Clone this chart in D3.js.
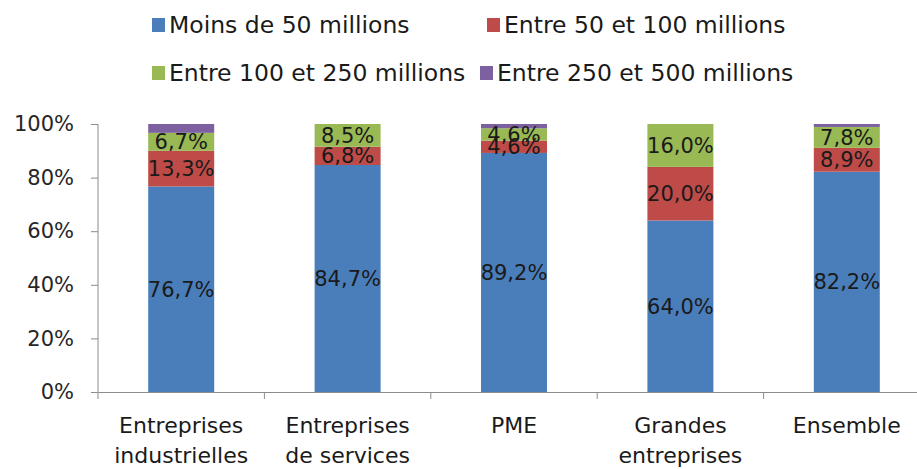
<!DOCTYPE html>
<html>
<head>
<meta charset="utf-8">
<script src="https://cdn.jsdelivr.net/npm/d3@7"></script>
<style>
  body { margin: 0; background: #fff; }
  text { font-family: "DejaVu Sans", sans-serif; }
</style>
</head>
<body>
<svg id="chart" width="917" height="469"></svg>
<script>
// categories, each label split on two lines
var categories = [
    ["Entreprises", "industrielles"],
    ["Entreprises", "de services"],
    ["PME"],
    ["Grandes", "entreprises"],
    ["Ensemble"]
];
var seriesNames = ["Moins de 50 millions", "Entre 50 et 100 millions",
    "Entre 100 et 250 millions", "Entre 250 et 500 millions"];
var seriesColors = ["#4a7ebb", "#be4b48", "#98b954", "#7d60a0"];

var moins50 = [76.7, 84.7, 89.2, 64.0, 82.2];
var de50a100 = [13.3, 6.8, 4.6, 20.0, 8.9];
var de100a250 = [6.7, 8.5, 4.6, 16.0, 7.8];
var de250a500 = [3.3, 0, 1.6, 0, 1.1];

var yTicks = [0, 20, 40, 60, 80, 100];

var series = [moins50, de50a100, de100a250, de250a500];

var svg = d3.select('#chart');
var margin = { left: 98, top: 124, right: -13, bottom: 77 };
var width = 917 - margin.left - margin.right;
var height = 469 - margin.top - margin.bottom;

var g = svg.append('g').attr('transform', 'translate(' + margin.left + ',' + margin.top + ')');

var x = d3.scaleBand().domain(d3.range(categories.length)).range([0, width]).paddingInner(0).paddingOuter(0);
var y = d3.scaleLinear().domain([0, 100]).range([height, 0]);
var barW = 66;

// stacked rows
var rows = categories.map(function(c, i) {
    var o = { i: i };
    series.forEach(function(s, k) { o['s' + k] = s[i]; });
    return o;
});
var stack = d3.stack().keys(series.map((s, k) => 's' + k));
var layers = stack(rows);

layers.forEach(function(layer, k) {
    var grp = g.append('g');
    grp.selectAll('rect')
        .data(layer.filter(d => d[1] - d[0] > 0))
        .enter().append('rect')
        .attr('x', d => x(d.data.i) + x.bandwidth() / 2 - barW / 2)
        .attr('width', barW)
        .attr('y', d => y(d[1]))
        .attr('height', d => y(d[0]) - y(d[1]))
        .style('fill', seriesColors[k]);
});

// data labels (first three series only)
layers.slice(0, 3).forEach(function(layer) {
    g.append('g').selectAll('text')
        .data(layer.filter(d => d[1] - d[0] > 0))
        .enter().append('text')
        .attr('x', d => x(d.data.i) + x.bandwidth() / 2)
        .attr('y', d => y((d[0] + d[1]) / 2))
        .attr('dy', '0.36em')
        .attr('text-anchor', 'middle')
        .style('font-size', '21px')
        .style('fill', '#1a1a1a')
        .text(d => d3.format('.1f')(d[1] - d[0]).replace('.', ',') + '%');
});

// y axis
var yAxis = d3.axisLeft(y).tickValues(yTicks).tickSize(7).tickPadding(17).tickFormat(d => d + '%');
var ya = g.append('g').call(yAxis);
ya.select('.domain').attr('d', 'M0,' + height + 'V0').style('stroke', '#8c8c8c');
ya.selectAll('.tick line').style('stroke', '#8c8c8c');
ya.selectAll('.tick text').style('font-size', '21px').style('fill', '#262626').style('font-family', 'DejaVu Sans');

// x axis
var xAxis = d3.axisBottom(x).tickSize(0).tickFormat('');
var xa = g.append('g').attr('transform', 'translate(0,' + height + ')').call(xAxis);
xa.select('.domain').style('stroke', '#8c8c8c');
xa.selectAll('.tick').remove();
g.append('g').selectAll('line')
    .data(d3.range(categories.length))
    .enter().append('line')
    .attr('x1', d => x(d)).attr('x2', d => x(d))
    .attr('y1', height).attr('y2', height + 7)
    .style('stroke', '#8c8c8c');

g.append('g').selectAll('text')
    .data(categories)
    .enter().append('text')
    .attr('text-anchor', 'middle')
    .attr('x', (d, i) => x(i) + x.bandwidth() / 2)
    .attr('y', height + 41)
    .style('font-size', '22px')
    .style('fill', '#1a1a1a')
    .each(function(d) {
        var t = d3.select(this);
        d.forEach(function(line, j) {
            t.append('tspan').attr('x', t.attr('x')).attr('dy', j === 0 ? 0 : 30).text(line);
        });
    });

// legend
var legendPos = [[152, 25], [487, 25], [152, 73], [480, 73]];
var legend = svg.append('g').selectAll('g')
    .data(seriesNames)
    .enter().append('g')
    .attr('transform', (d, i) => 'translate(' + legendPos[i][0] + ',' + legendPos[i][1] + ')');
legend.append('rect').attr('x', 0).attr('y', -7).attr('width', 13).attr('height', 14)
    .style('fill', (d, i) => seriesColors[i]);
legend.append('text').attr('x', 17).attr('dy', '0.36em')
    .style('font-size', '23.5px').style('fill', '#1a1a1a')
    .text(d => d);
</script>
</body>
</html>
